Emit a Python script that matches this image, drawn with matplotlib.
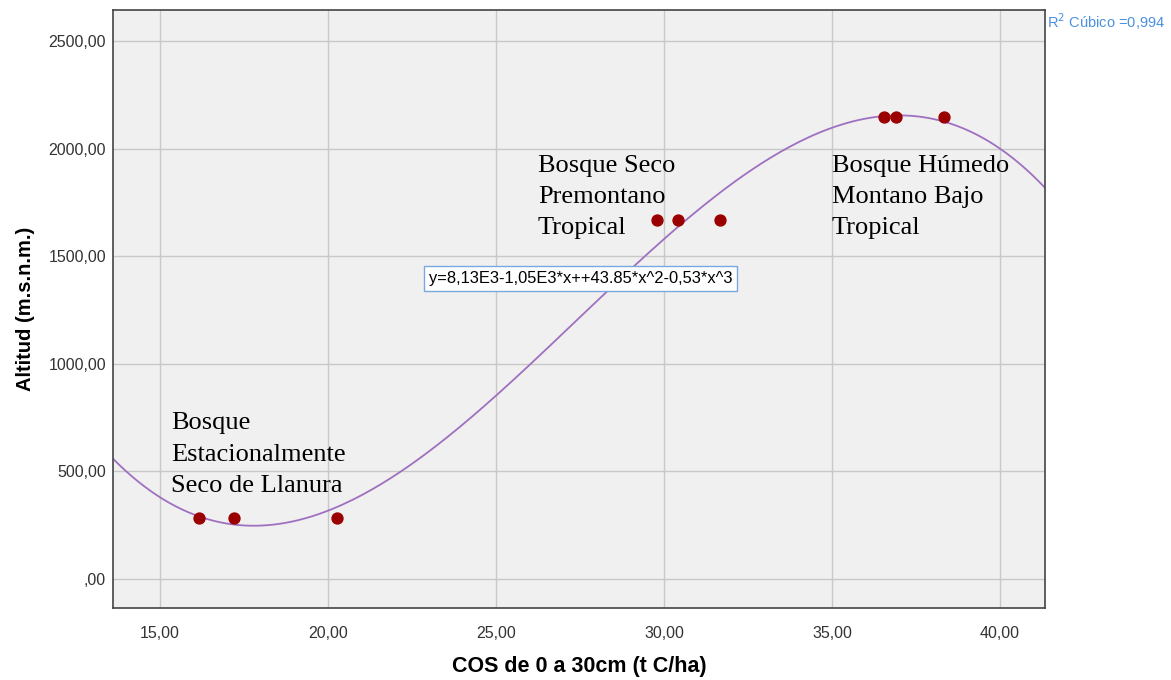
import numpy as np
import matplotlib.pyplot as plt
from matplotlib.ticker import FuncFormatter

# COS (t C/ha) y altitud de las parcelas
cos_0_30 = [16.16, 17.20, 20.27, 29.79, 30.42, 31.67, 36.55, 36.90, 38.33]
altitud = [285, 285, 285, 1666, 1666, 1666, 2146, 2146, 2146]

zonas = ["Bosque\nEstacionalmente\nSeco de Llanura",
         "Bosque Seco\nPremontano\nTropical",
         "Bosque Húmedo\nMontano Bajo\nTropical"]
zonas_xy = [(15.33, 578), (26.25, 1775), (35.0, 1775)]

ecuacion = "y=8,13E3-1,05E3*x++43.85*x^2-0,53*x^3"
r2_texto = "R$^2$ Cúbico =0,994"

plt.rcParams['font.family'] = ['Liberation Sans', 'DejaVu Sans']

fig = plt.figure(figsize=(11.71, 6.8), dpi=100)
ax = fig.add_axes([0.0965, 0.1059, 0.7959, 0.8794])
ax.set_facecolor('#f0f0f0')

xmin, xmax = 13.6, 41.34
ax.set_xlim(xmin, xmax)
ax.set_ylim(-135, 2644)

# ajuste cúbico
coef = np.polyfit(cos_0_30, altitud, 3)
xs = np.linspace(xmin, xmax, 300)
ax.plot(xs, np.polyval(coef, xs), color='#a070c0', lw=1.3, zorder=2)

ax.scatter(cos_0_30, altitud, s=62, color='#9b0000', zorder=3)

ax.set_xticks([15, 20, 25, 30, 35, 40])
ax.set_yticks([0, 500, 1000, 1500, 2000, 2500])


def coma(v, pos):
    s = f"{v:.2f}".replace('.', ',')
    return s[1:] if s.startswith('0,') else s


ax.xaxis.set_major_formatter(FuncFormatter(coma))
ax.yaxis.set_major_formatter(FuncFormatter(coma))
ax.tick_params(length=0, labelsize=11.5, labelcolor='#333333')
ax.tick_params(axis='x', pad=13)
ax.tick_params(axis='y', pad=5)
ax.grid(True, color='#c8c8c8', lw=1)
ax.set_axisbelow(True)
for sp in ax.spines.values():
    sp.set_color('#444444')
    sp.set_linewidth(1.2)

ax.set_xlabel("COS de 0 a 30cm (t C/ha)", fontsize=15.5, fontweight='bold', labelpad=11)
ax.set_ylabel("Altitud (m.s.n.m.)", fontsize=14.5, fontweight='bold', labelpad=10)

for txt, (x, y) in zip(zonas, zonas_xy):
    ax.text(x, y, txt, family='Liberation Serif', fontsize=19, va='center',
            ha='left', linespacing=1.55, zorder=4)

fig.text(0.366, 0.591, ecuacion, fontsize=11.9, va='center', ha='left',
         bbox=dict(boxstyle='square,pad=0.3', fc='white', ec='#7aa7e0', lw=1))

fig.text(0.894, 0.968, r2_texto, fontsize=10.5, color='#4a8fe0', va='center', ha='left')

fig.savefig("out.png", dpi=100)
